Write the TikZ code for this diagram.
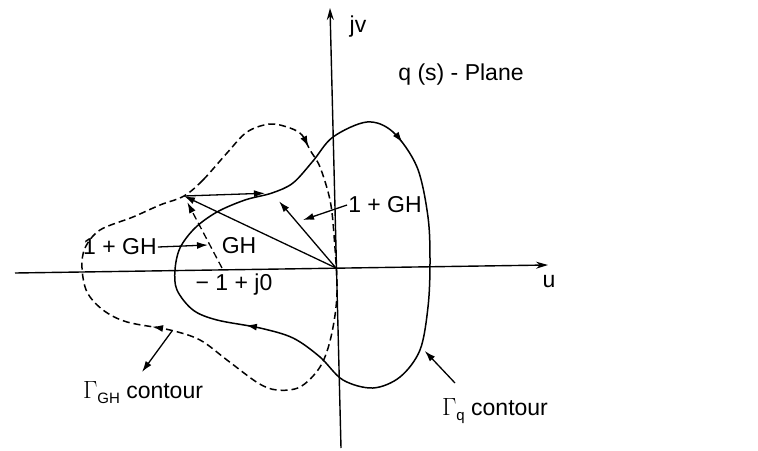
\documentclass[tikz,border=0pt]{standalone}
\usepackage{fontspec}
\setmainfont{Liberation Sans}
\usepackage{tikz}
\usetikzlibrary{arrows.meta,positioning,calc,decorations.markings}
\newcommand{\lowidx}[1]{\raisebox{-5pt}{\fontsize{15}{15}\selectfont #1}}
\tikzset{
  axis/.style={line width=1.4pt, -{Stealth[length=12pt,width=7pt]}},
  ar/.style={-{Latex[length=11pt,width=7pt]}, line width=1.3pt},
  lbl/.style={font=\fontsize{23}{27}\selectfont, inner sep=1pt},
  qcurve/.style={line width=1.5pt, postaction={decorate}, decoration={markings,
      mark=at position 0.172 with {\arrow{Latex[length=11pt,width=7pt]}},
      mark=at position 0.686 with {\arrow{Latex[length=11pt,width=7pt]}}}},
  ghcurve/.style={line width=1.5pt, dash pattern=on 7pt off 4pt, postaction={decorate}, decoration={markings,
      mark=at position 0.168 with {\arrow{Latex[length=11pt,width=7pt]}},
      mark=at position 0.682 with {\arrow{Latex[length=11pt,width=7pt]}}}},
}

\begin{document}
\begin{tikzpicture}[x=1pt, y=-1pt]
    \useasboundingbox (0,0) rectangle (758,450);
    % axes
    \coordinate (ul) at (15,273);
    \coordinate (ur) at (548,265);
    \coordinate (vb) at (341,448);
    \coordinate (vt) at (330,8);
    \draw[axis] (ul) -- (ur);
    \draw[axis] (vb) -- (vt);
    \node[lbl] (u) at (549,282) {u};
    \node[lbl] (jv) at (358,27) {jv};
    \node[lbl] (plane) at (461,75) {q (s) - Plane};

    % contours
    \draw[qcurve] plot[smooth cycle, tension=0.55] coordinates {
      (272,193) (293,183) (313,161) (333,137) (367,122) (393,132) (417,167)
      (428,217) (430,263) (428,307) (420,350) (400,377) (373,388) (343,380)
      (320,357) (293,338) (260,328) (217,320) (193,310) (177,290) (175,270)
      (180,248) (195,228) (217,212) (245,200)};
    \draw[ghcurve] plot[smooth cycle, tension=0.55] coordinates {
      (184,196) (203,180) (227,153) (247,132) (270,124) (290,128) (302,135)
      (310,150) (320,167) (330,200) (334,235) (337,293) (331,337) (320,367)
      (300,387) (277,390) (258,383) (227,360) (200,340) (170,330) (127,322)
      (103,310) (87,292) (82,268) (85,248) (100,230) (133,217) (160,205)};

    % vectors
    \coordinate (O) at (336,268);
    \coordinate (A) at (184,196);
    \coordinate (B) at (272,193);
    \coordinate (M) at (222,268);
    \draw[ar] (O) -- (A);
    \draw[ar, shorten >=11pt] (O) -- (B);
    \draw[ar, shorten >=7pt] (A) -- (B);
    \draw[ar, dash pattern=on 7pt off 4pt, shorten >=7pt] (M) -- (A);
    \node[lbl] (gh) at (239,246) {GH};
    \node[lbl] (mone) at (234,285) {− 1 + j0};

    % labels with pointers
    \node[lbl] (rgh) at (385,205) {1 + GH};
    \coordinate (tr) at (303,220);
    \draw[ar] (rgh.west) -- (tr);
    \node[lbl] (lgh) at (120,247) {1 + GH};
    \coordinate (tl) at (208,245);
    \draw[ar] (lgh.east) -- (tl);

    \node[lbl] (cq) at (495,411) {$\Gamma$\lowidx{q} contour};
    \coordinate (pq1) at (455,383);
    \coordinate (pq2) at (422,348);
    \draw[ar, shorten >=4pt] (pq1) -- (pq2);
    \node[lbl] (cgh) at (143,393) {$\Gamma$\lowidx{GH} contour};
    \coordinate (pg1) at (172,331);
    \coordinate (pg2) at (142,372);
    \draw[ar] (pg1) -- (pg2);
\end{tikzpicture}
\end{document}
